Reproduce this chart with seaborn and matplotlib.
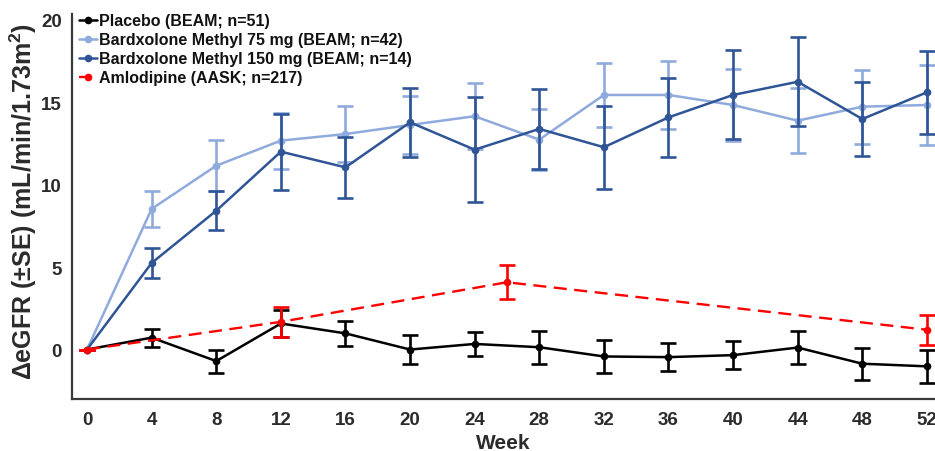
import matplotlib
matplotlib.use("Agg")
import matplotlib.pyplot as plt
import seaborn as sns
import pandas as pd

# ---- data ----
weeks = [0, 4, 8, 12, 16, 20, 24, 28, 32, 36, 40, 44, 48, 52]
placebo = [0, 0.72, -0.70, 1.58, 0.98, 0.0, 0.34, 0.14, -0.42, -0.46, -0.34, 0.12, -0.86, -1.02]
placebo_se = [0, 0.55, 0.70, 0.80, 0.74, 0.90, 0.73, 1.0, 0.98, 0.87, 0.87, 1.02, 0.98, 1.0]
bm75 = [0, 8.53, 11.15, 12.67, 13.07, 13.62, 14.15, 12.73, 15.44, 15.44, 14.83, 13.88, 14.73, 14.83]
bm75_se = [0, 1.08, 1.55, 1.70, 1.72, 1.75, 2.0, 1.86, 1.94, 2.07, 2.2, 1.98, 2.24, 2.4]
bm150 = [0, 5.25, 8.42, 12.0, 11.05, 13.78, 12.12, 13.38, 12.27, 14.08, 15.44, 16.24, 13.98, 15.6]
bm150_se = [0, 0.93, 1.18, 2.3, 1.87, 2.1, 3.17, 2.45, 2.52, 2.4, 2.7, 2.7, 2.22, 2.5]
amlo_weeks = [0, 12, 26, 52]
amlo = [0, 1.68, 4.08, 1.2]
amlo_se = [0, 0.9, 1.02, 0.9]

labels = ["Placebo (BEAM; n=51)",
          "Bardxolone Methyl 75 mg (BEAM; n=42)",
          "Bardxolone Methyl 150 mg (BEAM; n=14)",
          "Amlodipine (AASK; n=217)"]
colors = ["#000000", "#8FAADC", "#2F5597", "#FF0000"]
xticks = list(range(0, 53, 4))
yticks = [0, 5, 10, 15, 20]

# ---- style ----
sns.set_theme(style="white")
plt.rcParams["font.family"] = ["Liberation Sans", "DejaVu Sans"]
plt.rcParams["font.weight"] = "bold"
plt.rcParams["mathtext.fontset"] = "custom"
plt.rcParams["mathtext.bf"] = "Liberation Sans:bold"
plt.rcParams["mathtext.rm"] = "Liberation Sans:bold"
plt.rcParams["mathtext.default"] = "bf"

txt = "#2b2b2b"
fig = plt.figure(figsize=(9.35, 4.52), dpi=100)
ax = fig.add_axes([71.7 / 935, 52 / 452, 1 - 71.7 / 935, 385 / 452])

series = [
    (weeks, placebo, placebo_se, 0),
    (weeks, bm75, bm75_se, 1),
    (weeks, bm150, bm150_se, 2),
    (amlo_weeks, amlo, amlo_se, 3),
]
draw_order = [1, 2, 0, 3]
handles = {}
for i in draw_order:
    x, y, se, k = series[i]
    df = pd.DataFrame({"week": x, "value": y})
    c = colors[k]
    ls = "--" if k == 3 else "-"
    ax.errorbar(x, y, yerr=se, fmt="none", ecolor=c, elinewidth=1.9,
                capsize=5.5, capthick=1.9, zorder=2 + i)
    sns.lineplot(data=df, x="week", y="value", ax=ax, color=c, marker="o",
                 markersize=5.5, markeredgewidth=0, linewidth=1.8 if k != 3 else 1.7,
                 linestyle=ls, errorbar=None, label=labels[k], zorder=2.5 + i)
    line = ax.lines[-1]
    if k == 3:
        line.set_dashes((5.5, 3.2))
    handles[k] = line

ax.set_xlim(-0.95, 52.5)
ax.set_ylim(-3.0, 20.35)
ax.set_xticks(xticks)
ax.set_yticks(yticks)
ax.tick_params(axis="both", length=0, labelsize=13.5, colors=txt)
ax.tick_params(axis="x", pad=9)
ax.tick_params(axis="y", pad=7)
for lab in ax.get_xticklabels() + ax.get_yticklabels():
    lab.set_fontweight("bold")

for s in ["top", "right"]:
    ax.spines[s].set_visible(False)
for s in ["left", "bottom"]:
    ax.spines[s].set_color("#3a3a3a")
    ax.spines[s].set_linewidth(1.6)

ax.set_xlabel("Week", fontsize=15, fontweight="bold", color=txt, labelpad=3)
ax.set_ylabel("ΔeGFR (±SE) (mL/min/1.73m$^\\mathbf{2}$)", fontsize=18,
              fontweight="bold", color=txt)
ax.yaxis.set_label_coords(-0.038, 0.515)

leg = ax.legend([handles[k] for k in range(4)], labels, loc="upper left",
                bbox_to_anchor=(0.009, 1.002), frameon=False, fontsize=11.5,
                handlelength=1.1, handletextpad=0.15, labelspacing=0.25,
                borderpad=0, borderaxespad=0)
for t in leg.get_texts():
    t.set_fontweight("bold")
    t.set_color("#111111")

fig.savefig("out.png", dpi=100)
